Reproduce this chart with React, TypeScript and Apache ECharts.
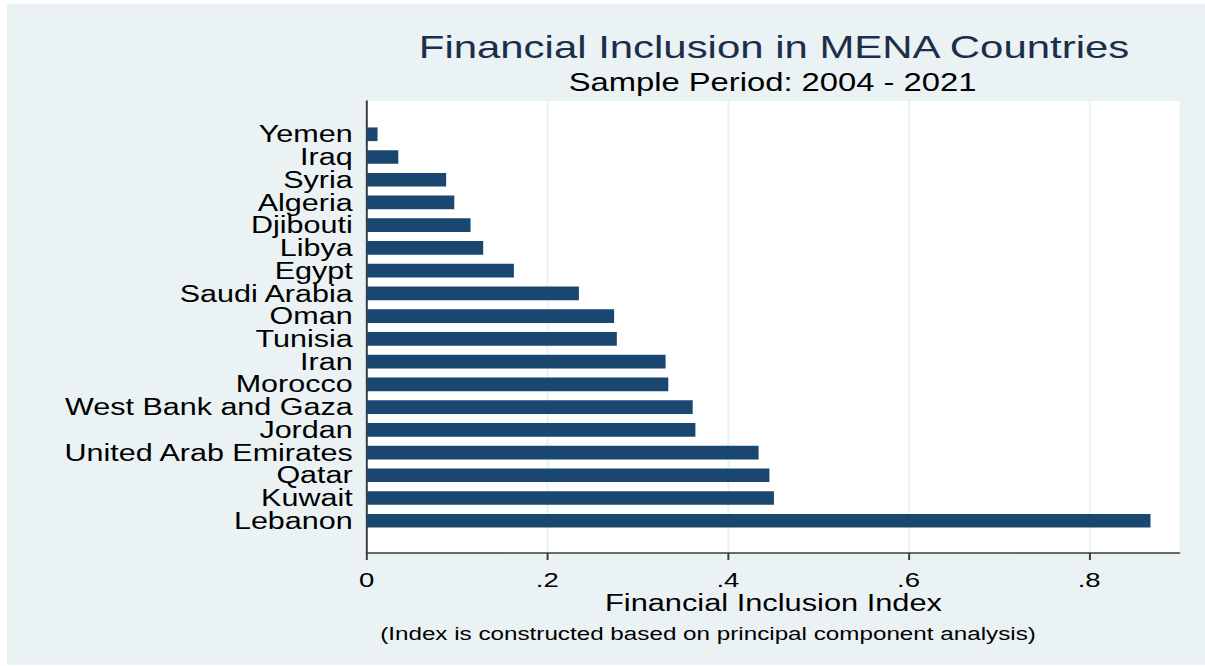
import React, { useEffect, useRef } from "react";
import * as echarts from "echarts";

const countries = [
  "Yemen", "Iraq", "Syria", "Algeria", "Djibouti", "Libya", "Egypt",
  "Saudi Arabia", "Oman", "Tunisia", "Iran", "Morocco", "West Bank and Gaza",
  "Jordan", "United Arab Emirates", "Qatar", "Kuwait", "Lebanon",
];
const indexValues = [
  0.012, 0.035, 0.088, 0.097, 0.115, 0.129, 0.163,
  0.235, 0.274, 0.277, 0.331, 0.334, 0.361,
  0.364, 0.434, 0.446, 0.451, 0.868,
];
const xTicks = [0, 0.2, 0.4, 0.6, 0.8];

const titleText = "Financial Inclusion in MENA Countries";
const subtitleText = "Sample Period: 2004 - 2021";
const xTitleText = "Financial Inclusion Index";
const noteText = "(Index is constructed based on principal component analysis)";

const SX = 1.31;
const W = 920;
const H = 666;
const FONT = "'Liberation Sans', Arial, sans-serif";
const BG = "#eaf2f3";
const NAVY = "#1a476f";
const AXIS = "#3c3c3c";

const px = (realX: number) => realX / SX;

export default function App() {
  const ref = useRef<HTMLDivElement>(null);
  useEffect(() => {
    if (!ref.current) return;
    const chart = echarts.init(ref.current, undefined, { renderer: "svg" });
    const left = px(366.7);
    const right = W - px(1179.4);
    chart.setOption({
      animation: false,
      backgroundColor: "#ffffff",
      graphic: [
        {
          type: "rect",
          z: -10,
          shape: { x: px(7), y: 4, width: W - px(7), height: 661 },
          style: { fill: BG },
        },
        {
          type: "text",
          x: px(774),
          y: 47,
          style: {
            text: titleText, font: `32px ${FONT}`, fill: "#1c2e4a",
            textAlign: "center", textVerticalAlign: "middle",
          },
        },
        {
          type: "text",
          x: px(772.5),
          y: 82,
          style: {
            text: subtitleText, font: `25px ${FONT}`, fill: "#000",
            textAlign: "center", textVerticalAlign: "middle",
          },
        },
        {
          type: "text",
          x: px(773.5),
          y: 603,
          style: {
            text: xTitleText, font: `23.5px ${FONT}`, fill: "#000",
            textAlign: "center", textVerticalAlign: "middle",
          },
        },
        {
          type: "text",
          x: px(708),
          y: 634,
          style: {
            text: noteText, font: `18.5px ${FONT}`, fill: "#000",
            textAlign: "center", textVerticalAlign: "middle",
          },
        },
      ],
      grid: [
        {
          left, right, top: 101, bottom: H - 553,
          show: true, backgroundColor: "#ffffff", borderWidth: 0,
        },
        {
          left, right, top: 122.9, bottom: H - 532.1,
        },
      ],
      xAxis: [
        {
          gridIndex: 0,
          type: "value",
          min: 0,
          max: 0.9,
          interval: 0.2,
          axisLine: { show: true, lineStyle: { color: AXIS, width: 1.5 } },
          axisTick: {
            show: true, length: 7, customValues: xTicks,
            lineStyle: { color: AXIS, width: 1.5 },
          },
          axisLabel: {
            show: true, customValues: xTicks, margin: 16,
            color: "#000", fontFamily: FONT, fontSize: 21,
            formatter: (v: number) => (v === 0 ? "0" : v.toFixed(1).replace(/^0/, "")),
          },
          splitLine: { show: true, lineStyle: { color: BG, width: 1.6 } },
        },
        {
          gridIndex: 1,
          type: "value",
          min: 0,
          max: 0.9,
          show: false,
        },
      ],
      yAxis: [
        {
          gridIndex: 0,
          type: "value",
          axisLine: { show: true, onZero: false, lineStyle: { color: AXIS, width: 1.5 } },
          axisTick: { show: false },
          axisLabel: { show: false },
          splitLine: { show: false },
        },
        {
          gridIndex: 1,
          type: "category",
          inverse: true,
          data: countries,
          axisLine: { show: false },
          axisTick: { show: false },
          splitLine: { show: false },
          axisLabel: {
            interval: 0,
            hideOverlap: false,
            margin: px(14),
            color: "#000",
            fontFamily: FONT,
            fontSize: 23.3,
            lineHeight: 20,
          },
        },
      ],
      series: [
        {
          type: "bar",
          xAxisIndex: 1,
          yAxisIndex: 1,
          data: indexValues,
          barWidth: 13.7,
          itemStyle: { color: NAVY },
        },
      ],
    });
    return () => chart.dispose();
  }, []);
  return (
    <div
      style={{
        position: "absolute",
        left: 0,
        top: 0,
        width: 1205,
        height: H,
        overflow: "hidden",
        background: "#fff",
      }}
    >
      <div
        ref={ref}
        style={{
          width: W,
          height: H,
          transform: `scaleX(${SX})`,
          transformOrigin: "0 0",
        }}
      />
    </div>
  );
}
